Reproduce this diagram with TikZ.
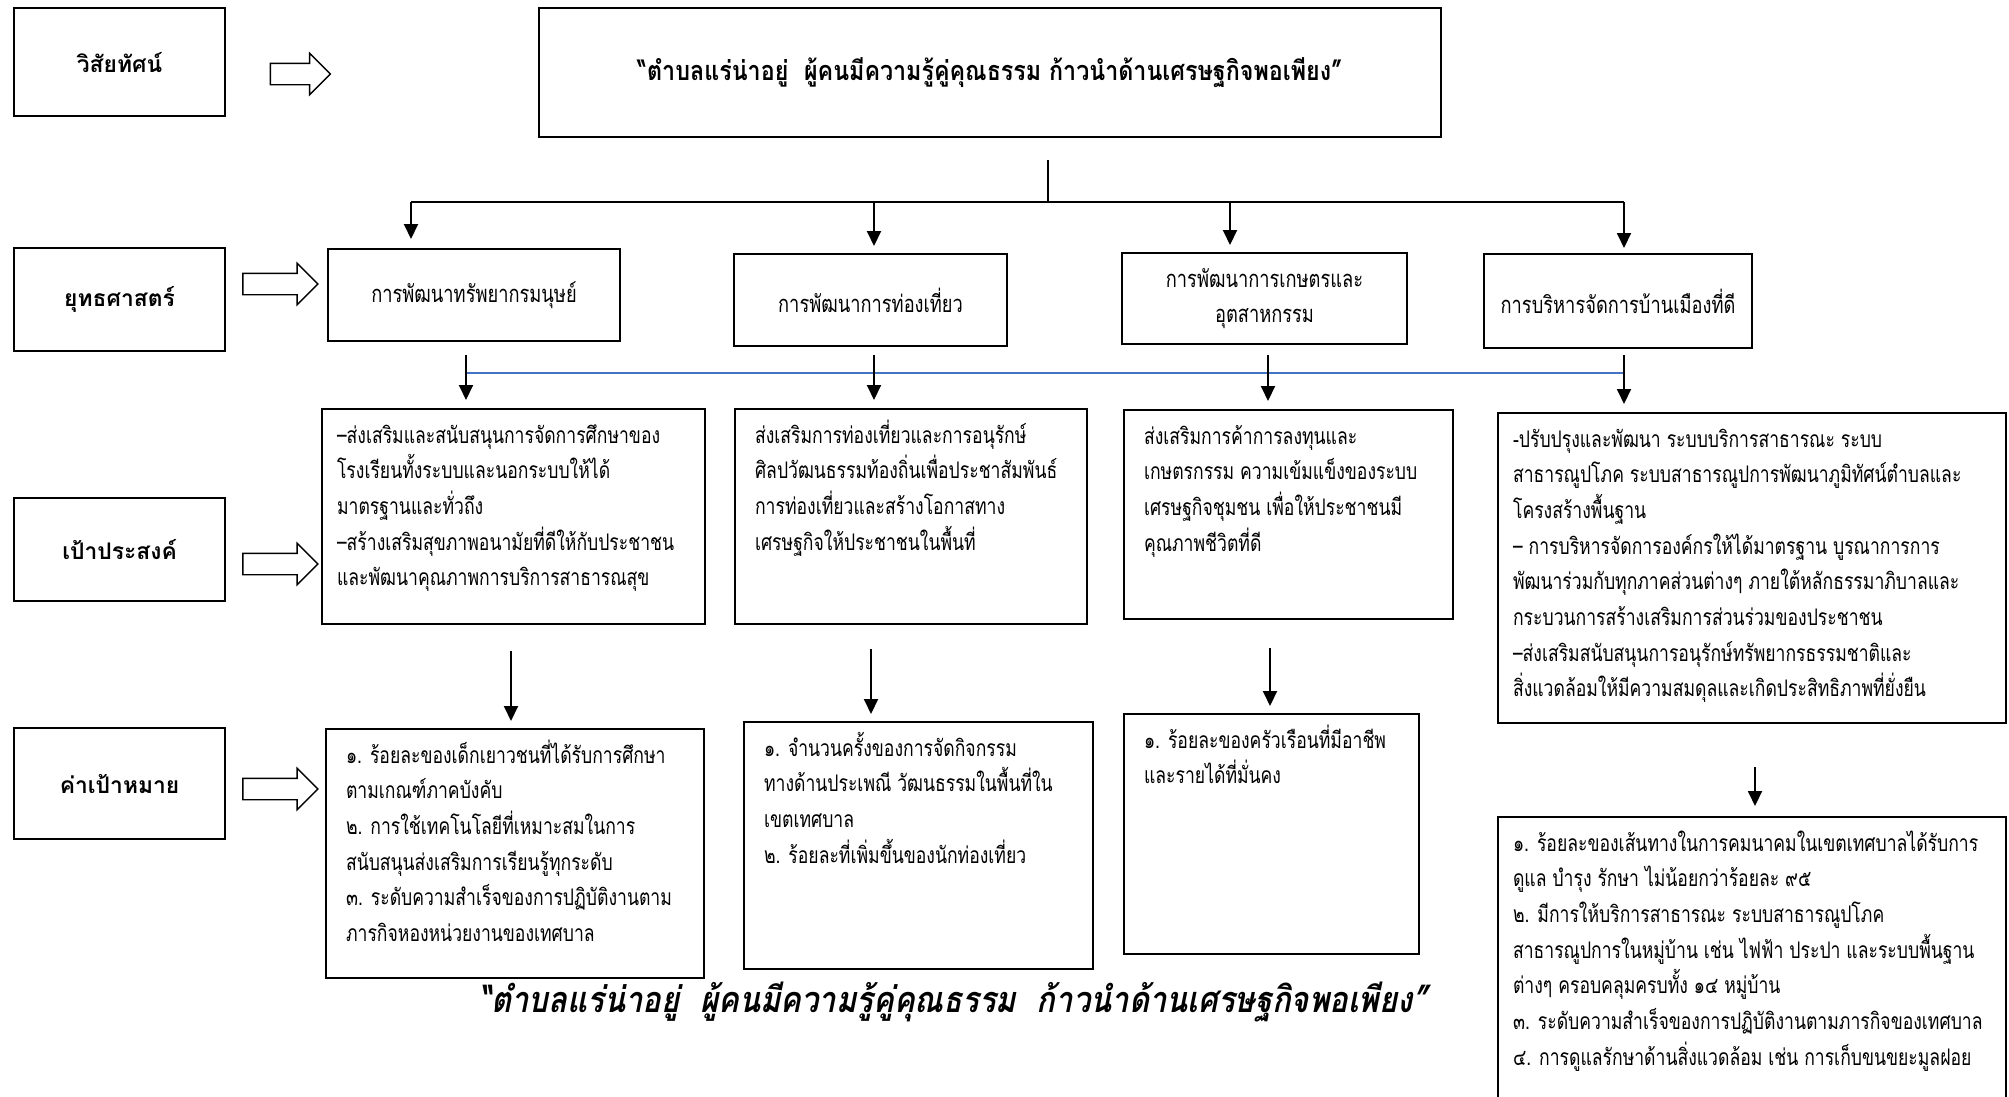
\documentclass[tikz,border=0pt]{standalone}
\usepackage{fontspec}
\usepackage{tikz}
\usetikzlibrary{arrows.meta, shapes.arrows}

\newfontfamily\thai[Script=Thai]{Loma}
\newfontfamily\thainarrow[Script=Thai, FakeStretch=0.77]{Loma}
\newfontfamily\thaimotto[Script=Thai, FakeStretch=0.86]{Loma}
\newfontfamily\thaislant[Script=Thai, FakeStretch=0.86, FakeSlant=0.2]{Loma}
\definecolor{lineblue}{RGB}{68,114,196}

% top-aligned lines of text inside a box
\newcommand{\boxtext}[3]{\parbox[t][#2][t]{#1}{\rule{0pt}{0.68cm}%
    \begin{tabular}[t]{@{}l@{}}#3\end{tabular}}}

\begin{document}
\begin{tikzpicture}[x=0.02cm, y=-0.02cm,
    headbox/.style={draw, line width=1.2pt, anchor=north west, align=center,
        minimum width=4.22cm, font=\thai\bfseries\fontsize{13}{16}\selectfont},
    stratbox/.style={draw, line width=1.2pt, anchor=north west, align=center,
        font=\thainarrow\fontsize{13.5}{20.3}\selectfont},
    textbox/.style={draw, line width=1.2pt, anchor=north west, inner xsep=0.4cm,
        inner ysep=0pt, font=\thainarrow\fontsize{13}{20.3}\selectfont},
    bigarrow/.style={single arrow, draw, line width=0.8pt, inner xsep=0pt,
        inner ysep=0.2cm, minimum height=1.5cm, single arrow head extend=0.2cm,
        single arrow tip angle=90},
    arr/.style={-{Triangle[length=0.3cm,width=0.28cm]}, line width=1.1pt},
    ]
    \useasboundingbox (0,0) rectangle (2009,1096);
    \clip (0,0) rectangle (2009,1096);

    % Headings
    \node[headbox, minimum height=2.16cm] (vis) at (13,7) {วิสัยทัศน์};
    \node[headbox, minimum height=2.06cm] (strat) at (13,247) {ยุทธศาสตร์};
    \node[headbox, minimum height=2.06cm] (goal) at (13,497) {เป้าประสงค์};
    \node[headbox, minimum height=2.22cm] (kpi) at (13,727) {ค่าเป้าหมาย};

    % Block arrows
    \node[bigarrow, minimum height=1.2cm] (a1) at (295,74) {};
    \node[bigarrow] (a2) at (275,284) {};
    \node[bigarrow] (a3) at (275,564) {};
    \node[bigarrow] (a4) at (275,789) {};

    % Vision
    \node[headbox, font=\thaimotto\bfseries\fontsize{15.4}{18}\selectfont,
        minimum width=18.04cm, minimum height=2.58cm] (motto) at (538,7)
        {“ตำบลแร่น่าอยู่\ \ ผู้คนมีความรู้คู่คุณธรรม ก้าวนำด้านเศรษฐกิจพอเพียง”};

    % Strategies
    \node[stratbox, minimum width=5.84cm, minimum height=1.84cm] (s1) at (327,248)
        {การพัฒนาทรัพยากรมนุษย์};
    \node[stratbox, minimum width=5.46cm, minimum height=1.84cm] (s2) at (733,253)
        {การพัฒนาการท่องเที่ยว};
    \node[stratbox, minimum width=5.70cm, minimum height=1.82cm] (s3) at (1121,252)
        {การพัฒนาการเกษตรและ\\อุตสาหกรรม};
    \node[stratbox, minimum width=5.36cm, minimum height=1.88cm] (s4) at (1483,253)
        {การบริหารจัดการบ้านเมืองที่ดี};

    % Goals
    \node[textbox, inner xsep=0.3cm] (o1) at (321,408) {\boxtext{7.06cm}{4.30cm}{%
        –ส่งเสริมและสนับสนุนการจัดการศึกษาของ\\
        โรงเรียนทั้งระบบและนอกระบบให้ได้\\
        มาตรฐานและทั่วถึง\\
        –สร้างเสริมสุขภาพอนามัยที่ดีให้กับประชาชน\\
        และพัฒนาคุณภาพการบริการสาธารณสุข}};
    \node[textbox] (o2) at (734,408) {\boxtext{6.24cm}{4.30cm}{%
        ส่งเสริมการท่องเที่ยวและการอนุรักษ์\\
        ศิลปวัฒนธรรมท้องถิ่นเพื่อประชาสัมพันธ์\\
        การท่องเที่ยวและสร้างโอกาสทาง\\
        เศรษฐกิจให้ประชาชนในพื้นที่}};
    \node[textbox] (o3) at (1123,409) {\boxtext{5.78cm}{4.18cm}{%
        ส่งเสริมการค้าการลงทุนและ\\
        เกษตรกรรม ความเข้มแข็งของระบบ\\
        เศรษฐกิจชุมชน เพื่อให้ประชาชนมี\\
        คุณภาพชีวิตที่ดี}};
    \node[textbox, inner xsep=0.3cm] (o4) at (1497,412) {\boxtext{9.56cm}{6.20cm}{%
        -ปรับปรุงและพัฒนา ระบบบริการสาธารณะ ระบบ\\
        สาธารณูปโภค ระบบสาธารณูปการพัฒนาภูมิทัศน์ตำบลและ\\
        โครงสร้างพื้นฐาน\\
        – การบริหารจัดการองค์กรให้ได้มาตรฐาน บูรณาการการ\\
        พัฒนาร่วมกับทุกภาคส่วนต่างๆ ภายใต้หลักธรรมาภิบาลและ\\
        กระบวนการสร้างเสริมการส่วนร่วมของประชาชน\\
        –ส่งเสริมสนับสนุนการอนุรักษ์ทรัพยากรธรรมชาติและ\\
        สิ่งแวดล้อมให้มีความสมดุลและเกิดประสิทธิภาพที่ยั่งยืน}};

    % Targets
    \node[textbox] (t1) at (325,728) {\boxtext{6.76cm}{4.98cm}{%
        ๑. ร้อยละของเด็กเยาวชนที่ได้รับการศึกษา\\
        ตามเกณฑ์ภาคบังคับ\\
        ๒. การใช้เทคโนโลยีที่เหมาะสมในการ\\
        สนับสนุนส่งเสริมการเรียนรู้ทุกระดับ\\
        ๓. ระดับความสำเร็จของการปฏิบัติงานตาม\\
        ภารกิจหองหน่วยงานของเทศบาล}};
    \node[textbox] (t2) at (743,721) {\boxtext{6.18cm}{4.94cm}{%
        ๑. จำนวนครั้งของการจัดกิจกรรม\\
        ทางด้านประเพณี วัฒนธรรมในพื้นที่ใน\\
        เขตเทศบาล\\
        ๒. ร้อยละที่เพิ่มขึ้นของนักท่องเที่ยว}};
    \node[textbox] (t3) at (1123,713) {\boxtext{5.10cm}{4.80cm}{%
        ๑. ร้อยละของครัวเรือนที่มีอาชีพ\\
        และรายได้ที่มั่นคง}};
    \node[textbox, inner xsep=0.3cm] (t4) at (1497,816) {\boxtext{9.56cm}{5.80cm}{%
        ๑. ร้อยละของเส้นทางในการคมนาคมในเขตเทศบาลได้รับการ\\
        ดูแล บำรุง รักษา ไม่น้อยกว่าร้อยละ ๙๕\\
        ๒. มีการให้บริการสาธารณะ ระบบสาธารณูปโภค\\
        สาธารณูปการในหมู่บ้าน เช่น ไฟฟ้า ประปา และระบบพื้นฐาน\\
        ต่างๆ ครอบคลุมครบทั้ง ๑๔ หมู่บ้าน\\
        ๓. ระดับความสำเร็จของการปฏิบัติงานตามภารกิจของเทศบาล\\
        ๔. การดูแลรักษาด้านสิ่งแวดล้อม เช่น การเก็บขนขยะมูลฝอย}};

    % Slogan
    \node[font=\thaislant\bfseries\fontsize{20.5}{24}\selectfont] (slogan) at (953,1002)
        {“ตำบลแร่น่าอยู่\ \ ผู้คนมีความรู้คู่คุณธรรม\ \ ก้าวนำด้านเศรษฐกิจพอเพียง”};

    % Lines into strategies
    \coordinate (top) at (1048,160);
    \coordinate (hub) at (1048,202);
    \coordinate (h1) at (411,202);
    \coordinate (h2) at (874,202);
    \coordinate (h3) at (1230,202);
    \coordinate (h4) at (1624,202);
    \draw[line width=0.8pt] (top) -- (hub);
    \draw[line width=1.1pt] (h1) -- (h4);
    \draw[arr, shorten >=0.18cm] (h1) -- (h1 |- s1.north);
    \draw[arr, shorten >=0.14cm] (h2) -- (h2 |- s2.north);
    \draw[arr, shorten >=0.14cm] (h3) -- (h3 |- s3.north);
    \draw[arr, shorten >=0.10cm] (h4) -- (h4 |- s4.north);

    % Strategies to goals
    \coordinate (l1) at (466,373);
    \coordinate (l4) at (1624,373);
    \draw[lineblue, line width=1.1pt] (l1) -- (l4);
    \coordinate (m1) at (466,355);
    \coordinate (m2) at (874,355);
    \coordinate (m3) at (1268,355);
    \coordinate (m4) at (1624,355);
    \draw[arr, shorten >=0.16cm] (m1) -- (m1 |- o1.north);
    \draw[arr, shorten >=0.16cm] (m2) -- (m2 |- o2.north);
    \draw[arr, shorten >=0.16cm] (m3) -- (m3 |- o3.north);
    \draw[arr, shorten >=0.16cm] (m4) -- (m4 |- o4.north);

    % Goals to targets
    \coordinate (d1) at (511,651);
    \coordinate (d2) at (871,649);
    \coordinate (d3) at (1270,648);
    \coordinate (d4) at (1755,767);
    \draw[arr, shorten >=0.14cm] (d1) -- (d1 |- t1.north);
    \draw[arr, shorten >=0.14cm] (d2) -- (d2 |- t2.north);
    \draw[arr, shorten >=0.14cm] (d3) -- (d3 |- t3.north);
    \draw[arr, shorten >=0.2cm] (d4) -- (d4 |- t4.north);
\end{tikzpicture}
\end{document}
